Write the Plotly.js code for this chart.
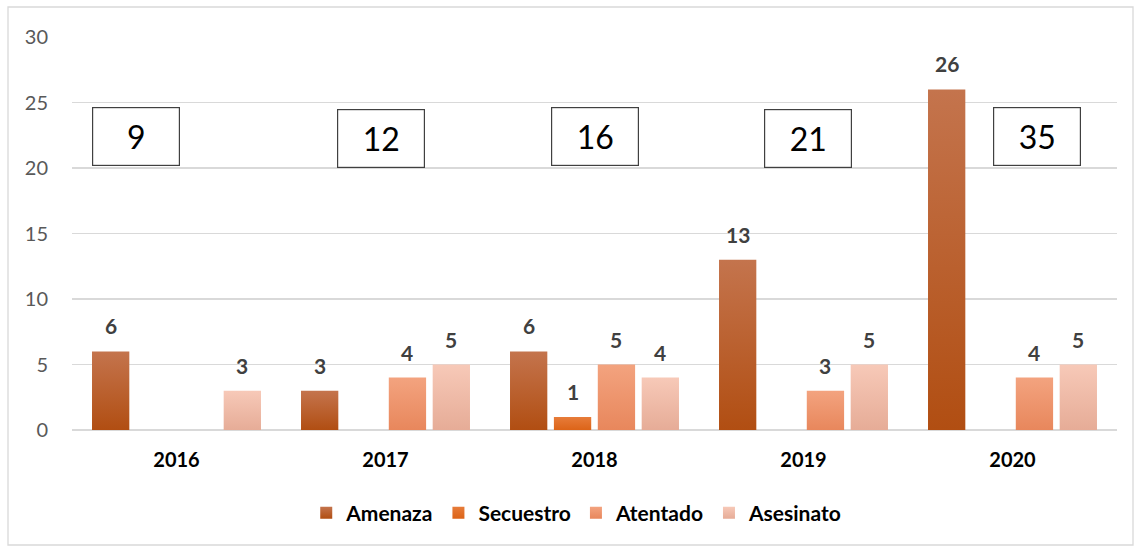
<!DOCTYPE html>
<html><head><meta charset="utf-8">
<script src="https://cdn.plot.ly/plotly-3.0.1.min.js"></script>
<style>html,body{margin:0;padding:0;background:#fff;}#chart{width:1135px;height:546px;}</style>
</head><body><div id="chart"></div>
<script>
const years = ['2016','2017','2018','2019','2020'];
const seriesNames = ['Amenaza','Secuestro','Atentado','Asesinato'];
const amenaza   = [6, 3, 6, 13, 26];
const secuestro = [0, 0, 1, 0, 0];
const atentado  = [0, 4, 5, 3, 4];
const asesinato = [3, 5, 4, 5, 5];
const totals    = [9, 12, 16, 21, 35];

const seriesValues = [amenaza, secuestro, atentado, asesinato];
const colors = ['#BA5E26','#E16C22','#F0946A','#F2BBA6'];
const gradStops = [['#C4744D','#B14E12'],['#E77C3A','#DC6418'],['#F3A37F','#E8875C'],['#F7C9B8','#E6AC97']];
const FONT = 'Lato, "Liberation Sans", sans-serif';
const bargap = 0.16, bargroupgap = 0.15;

const traces = seriesValues.map((vals, k) => ({
  type: 'bar', name: seriesNames[k], x: years, y: vals,
  marker: {color: colors[k], line: {width: 0}},
  hoverinfo: 'x+y+name'
}));

const annotations = [];
const slot = (1 - bargap) / seriesValues.length;
seriesValues.forEach((vals, k) => {
  vals.forEach((v, i) => {
    if (v > 0) annotations.push({
      x: i - (1 - bargap) / 2 + slot * (k + 0.5), y: v, xref: 'x', yref: 'y',
      text: String(v), showarrow: false, yanchor: 'bottom', yshift: 11,
      font: {family: FONT, size: 21, color: '#404040', weight: 'bold'}
    });
  });
});
const boxOffsets = [-0.195, -0.02, 0, 0.02, 0.115];
const boxY = [22.4, 22.25, 22.4, 22.25, 22.4];
totals.forEach((t, i) => annotations.push({
  x: i + boxOffsets[i], y: boxY[i], xref: 'x', yref: 'y', text: String(t), showarrow: false,
  width: 86, height: 57, borderpad: 0, bordercolor: '#404040', borderwidth: 1.2, bgcolor: '#ffffff',
  xanchor: 'center', yanchor: 'middle',
  font: {family: FONT, size: 32, color: '#000000'}
}));

const ml = 72, mr = 18, mt = 37, mb = 116;
const pw = 1135 - ml - mr, ph = 546 - mt - mb;
const layout = {
  width: 1135, height: 546,
  margin: {l: ml, r: mr, t: mt, b: mb},
  paper_bgcolor: '#ffffff', plot_bgcolor: '#ffffff',
  barmode: 'group', bargap: bargap, bargroupgap: bargroupgap,
  font: {family: FONT},
  showlegend: true,
  legend: {orientation: 'h', x: 0.483, xanchor: 'center', y: (430 - 513) / ph, yanchor: 'middle',
           font: {family: FONT, size: 21, color: '#000000', weight: 'bold'}, itemwidth: 30, tracegroupgap: 0},
  xaxis: {type: 'category', showgrid: false, showline: false, zeroline: false, ticks: '',
          ticklabelstandoff: 16,
          tickfont: {family: FONT, size: 20, color: '#000000', weight: 'bold'}},
  yaxis: {range: [0, 30], dtick: 5, showgrid: true, gridcolor: '#D9D9D9', gridwidth: 1.3,
          zeroline: true, zerolinecolor: '#D9D9D9', zerolinewidth: 1.3, showline: false, ticks: '',
          ticklabelstandoff: 23,
          tickfont: {family: FONT, size: 20, color: '#595959'}},
  annotations: annotations,
  shapes: [{type: 'rect', xref: 'paper', yref: 'paper', layer: 'below',
            x0: (8 - ml) / pw, x1: (1133 - ml) / pw, y0: (430 - 545) / ph, y1: (430 - 7) / ph,
            line: {color: '#D9D9D9', width: 1.3}, fillcolor: 'rgba(0,0,0,0)'}]
};

Plotly.newPlot('chart', traces, layout, {displayModeBar: false, staticPlot: true}).then(gd => {
  const svg = gd.querySelector('svg.main-svg');
  const ns = 'http://www.w3.org/2000/svg';
  let defs = svg.querySelector('defs');
  if (!defs) { defs = document.createElementNS(ns, 'defs'); svg.insertBefore(defs, svg.firstChild); }
  gradStops.forEach((st, k) => {
    const g = document.createElementNS(ns, 'linearGradient');
    g.setAttribute('id', 'bargrad' + k);
    g.setAttribute('x1', '0'); g.setAttribute('y1', '0'); g.setAttribute('x2', '0'); g.setAttribute('y2', '1');
    [[0, st[0]], [1, st[1]]].forEach(([o, c]) => {
      const s = document.createElementNS(ns, 'stop');
      s.setAttribute('offset', o); s.setAttribute('stop-color', c);
      g.appendChild(s);
    });
    defs.appendChild(g);
  });
  gd.querySelectorAll('.barlayer .trace').forEach((tr, k) => {
    tr.querySelectorAll('path').forEach(p => { p.style.fill = 'url(#bargrad' + k + ')'; });
  });
  gd.querySelectorAll('.legend .traces').forEach((tr, k) => {
    tr.querySelectorAll('.legendpoints path').forEach(p => { p.style.fill = 'url(#bargrad' + k + ')'; });
  });
});
</script>
</body></html>
